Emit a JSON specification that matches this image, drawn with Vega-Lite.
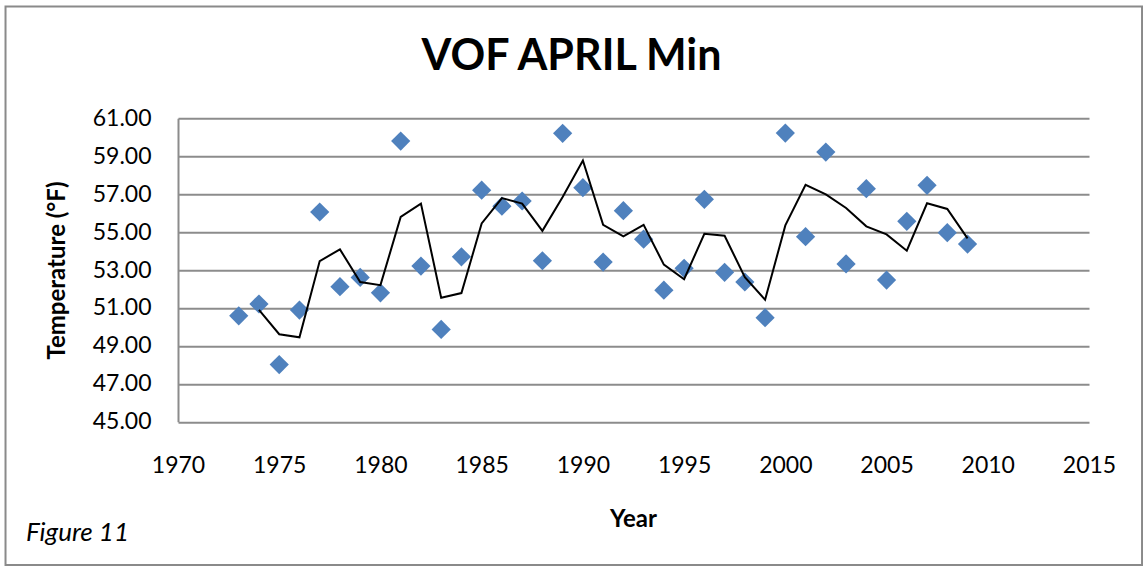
{
  "$schema": "https://vega.github.io/schema/vega-lite/v6.json",
  "width": 911,
  "height": 303.5,
  "autosize": {"type": "none"},
  "padding": {"left": 178, "top": 118.3, "right": 54, "bottom": 145.2},
  "background": "white",
  "title": {"text": "VOF APRIL Min", "font": "Lato", "fontSize": 43, "fontWeight": "bold", "color": "black", "anchor": "middle", "dx": -62, "baseline": "alphabetic", "offset": 0, "dy": 108},
  "config": {
    "view": {"stroke": null},
    "font": "Lato",
    "axisX": {
      "grid": false, "domain": false, "ticks": false, "tickSize": 0,
      "labelFlush": false, "labelOverlap": false, "labelPadding": 33, "labelFont": "Lato", "labelFontSize": 23, "labelColor": "black",
      "titleFont": "Lato", "titleFontSize": 24, "titleFontWeight": "bold", "titleColor": "black",
      "titleBaseline": "alphabetic", "titleY": 104.3, "titleX": 455
    },
    "axisY": {
      "grid": true, "gridColor": "#8c8c8c", "gridWidth": 2, "gridOpacity": 1,
      "domain": true, "domainColor": "#8c8c8c", "domainWidth": 2,
      "ticks": false, "tickSize": 0, "labelOverlap": false,
      "labelPadding": 27, "labelFont": "Lato", "labelFontSize": 23, "labelColor": "black",
      "titleFont": "Lato", "titleFontSize": 24, "titleFontWeight": "bold", "titleColor": "black",
      "titleAngle": -90, "titleAlign": "center", "titleBaseline": "middle", "titleX": -120.5, "titleY": 151.75
    }
  },
  "data": {"values": [
    {"year": 1973, "temp": 50.59},
    {"year": 1974, "temp": 51.21},
    {"year": 1975, "temp": 48.02},
    {"year": 1976, "temp": 50.89},
    {"year": 1977, "temp": 56.06},
    {"year": 1978, "temp": 52.12},
    {"year": 1979, "temp": 52.61},
    {"year": 1980, "temp": 51.80},
    {"year": 1981, "temp": 59.80},
    {"year": 1982, "temp": 53.21},
    {"year": 1983, "temp": 49.87},
    {"year": 1984, "temp": 53.70},
    {"year": 1985, "temp": 57.21},
    {"year": 1986, "temp": 56.37},
    {"year": 1987, "temp": 56.64},
    {"year": 1988, "temp": 53.49},
    {"year": 1989, "temp": 60.21},
    {"year": 1990, "temp": 57.34},
    {"year": 1991, "temp": 53.42},
    {"year": 1992, "temp": 56.13},
    {"year": 1993, "temp": 54.63},
    {"year": 1994, "temp": 51.94},
    {"year": 1995, "temp": 53.09},
    {"year": 1996, "temp": 56.73},
    {"year": 1997, "temp": 52.88},
    {"year": 1998, "temp": 52.37},
    {"year": 1999, "temp": 50.49},
    {"year": 2000, "temp": 60.22},
    {"year": 2001, "temp": 54.76},
    {"year": 2002, "temp": 59.22},
    {"year": 2003, "temp": 53.32},
    {"year": 2004, "temp": 57.29},
    {"year": 2005, "temp": 52.47},
    {"year": 2006, "temp": 55.57},
    {"year": 2007, "temp": 57.47},
    {"year": 2008, "temp": 54.97},
    {"year": 2009, "temp": 54.37}
  ]},
  "layer": [
    {
      "data": {"values": [{"k": 1}]},
      "mark": {"type": "rect", "filled": false, "stroke": "#8a8a8a", "strokeWidth": 2},
      "encoding": {
        "x": {"datum": 1961.48, "type": "quantitative", "scale": {"domain": [1970, 2015], "nice": false, "zero": false},
          "axis": {"values": [1970, 1975, 1980, 1985, 1990, 1995, 2000, 2005, 2010, 2015], "format": "d", "title": "Year"}},
        "x2": {"datum": 2017.62},
        "y": {"datum": 66.9, "type": "quantitative", "scale": {"domain": [45, 61], "nice": false, "zero": false},
          "axis": {"values": [45, 47, 49, 51, 53, 55, 57, 59, 61], "format": ".2f", "title": "Temperature (°F)"}},
        "y2": {"datum": 37.45}
      }
    },
    {
      "mark": {"type": "point", "shape": "diamond", "filled": true, "color": "#4F81BD", "opacity": 1, "size": 370},
      "encoding": {
        "x": {"field": "year", "type": "quantitative", "title": "Year",
          "scale": {"domain": [1970, 2015], "nice": false, "zero": false},
          "axis": {"values": [1970, 1975, 1980, 1985, 1990, 1995, 2000, 2005, 2010, 2015], "format": "d", "title": "Year"}},
        "y": {"field": "temp", "type": "quantitative", "title": "Temperature (°F)",
          "scale": {"domain": [45, 61], "nice": false, "zero": false},
          "axis": {"values": [45, 47, 49, 51, 53, 55, 57, 59, 61], "format": ".2f", "title": "Temperature (°F)"}}
      }
    },
    {
      "transform": [
        {"window": [{"op": "mean", "field": "temp", "as": "ma"}, {"op": "count", "as": "n"}], "frame": [-1, 0], "sort": [{"field": "year"}]},
        {"filter": "datum.n == 2"}
      ],
      "mark": {"type": "line", "color": "black", "strokeWidth": 2},
      "encoding": {
        "x": {"field": "year", "type": "quantitative", "title": "Year",
          "scale": {"domain": [1970, 2015], "nice": false, "zero": false},
          "axis": {"values": [1970, 1975, 1980, 1985, 1990, 1995, 2000, 2005, 2010, 2015], "format": "d", "title": "Year"}},
        "y": {"field": "ma", "type": "quantitative", "title": "Temperature (°F)",
          "scale": {"domain": [45, 61], "nice": false, "zero": false},
          "axis": {"values": [45, 47, 49, 51, 53, 55, 57, 59, 61], "format": ".2f", "title": "Temperature (°F)"}}
      }
    },
    {
      "data": {"values": [{"label": "Figure 11"}]},
      "mark": {"type": "text", "font": "Lato", "fontSize": 26, "fontStyle": "italic", "align": "left", "baseline": "alphabetic", "color": "black"},
      "encoding": {
        "text": {"field": "label"},
        "x": {"datum": 1962.49, "type": "quantitative",
          "axis": {"values": [1970, 1975, 1980, 1985, 1990, 1995, 2000, 2005, 2010, 2015], "format": "d", "title": "Year"}},
        "y": {"datum": 38.72, "type": "quantitative",
          "axis": {"values": [45, 47, 49, 51, 53, 55, 57, 59, 61], "format": ".2f", "title": "Temperature (°F)"}}
      }
    }
  ]
}
